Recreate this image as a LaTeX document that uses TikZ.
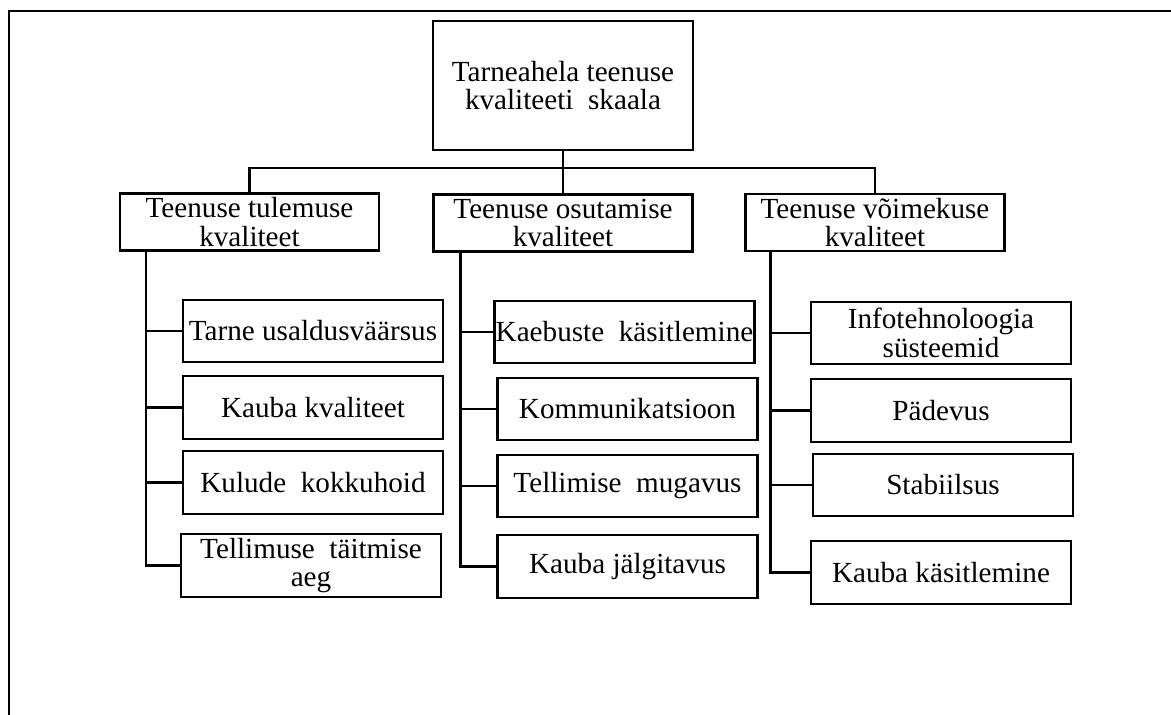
\documentclass[tikz,border=0pt]{standalone}
\usepackage{fontspec}
\setmainfont{Liberation Serif}
\usetikzlibrary{calc}
\tikzset{
	root/.style={draw, line width=0.45mm, inner sep=0pt, align=center, minimum width=5.2cm, minimum height=2.58cm},
	head/.style={draw, line width=0.45mm, inner sep=0pt, align=center, minimum width=5.18cm, minimum height=1.14cm},
	leaf/.style={draw, line width=0.45mm, inner sep=0pt, align=center, minimum width=5.2cm, minimum height=1.25cm},
	wire/.style={line width=0.45mm}
}

\begin{document}
\begin{tikzpicture}[x=0.02cm, y=-0.02cm, font=\fontsize{16.6}{16.4}\selectfont]
		%%%%% START %%%%%
		\useasboundingbox (0, 0) rectangle (1171, 715);
		\draw[line width=0.3mm] (9, 715) -- (9, 11) -- (1171, 11);
		
		\node[root] (skaala) at (563, 85.5) {Tarneahela teenuse\\kvaliteeti\ \ skaala};
		
		\node[head] (tulemus) at (249.5, 222) {Teenuse tulemuse\\kvaliteet};
		\node[head] (osutamine) at (563, 223) {Teenuse osutamise\\kvaliteet};
		\node[head] (voimekus) at (875, 222.5) {Teenuse võimekuse\\kvaliteet};
		
		\coordinate (siin) at (563, 168);
		\draw[wire] (skaala) -- (osutamine);
		\draw[wire] (tulemus.north) |- (siin) -| (voimekus.north);
		
		\node[leaf] (tarne) at (313, 331) {Tarne usaldusväärsus};
		\node[leaf] (kauba) at (313, 407.5) {Kauba kvaliteet};
		\node[leaf] (kulud) at (313, 482.5) {Kulude\ \ kokkuhoid};
		\node[leaf] (aeg) at (311, 565.5) {Tellimuse\ \ täitmise\\aeg};
		
		\node[leaf] (kaebus) at (624.5, 332) {Kaebuste\ \ käsitlemine};
		\node[leaf] (kommu) at (627.5, 409) {Kommunikatsioon};
		\node[leaf] (mugav) at (627.5, 486) {Tellimise\ \ mugavus};
		\node[leaf] (jalg) at (627.5, 566.5) {Kauba jälgitavus};
		
		\node[leaf] (info) at (941, 333) {Infotehnoloogia\\süsteemid};
		\node[leaf] (padevus) at (941, 410.5) {Pädevus};
		\node[leaf] (stabiil) at (943, 485) {Stabiilsus};
		\node[leaf] (kasitl) at (941, 572.5) {Kauba käsitlemine};
		
		\coordinate (tt) at ($(tulemus.south west)+(27, 0)$);
		\coordinate (ot) at ($(osutamine.south west)+(28, 0)$);
		\coordinate (vt) at ($(voimekus.south west)+(26, 0)$);
		
		\draw[wire] (tt) |- (aeg.west);
		\draw[wire] (tarne.west) -- (tarne.west -| tt);
		\draw[wire] (kauba.west) -- (kauba.west -| tt);
		\draw[wire] (kulud.west) -- (kulud.west -| tt);
		
		\draw[wire] (ot) |- (jalg.west);
		\draw[wire] (kaebus.west) -- (kaebus.west -| ot);
		\draw[wire] (kommu.west) -- (kommu.west -| ot);
		\draw[wire] (mugav.west) -- (mugav.west -| ot);
		
		\draw[wire] (vt) |- (kasitl.west);
		\draw[wire] (info.west) -- (info.west -| vt);
		\draw[wire] (padevus.west) -- (padevus.west -| vt);
		\draw[wire] (stabiil.west) -- (stabiil.west -| vt);
		
		%%%%% END %%%%%
	\end{tikzpicture}
\end{document}
